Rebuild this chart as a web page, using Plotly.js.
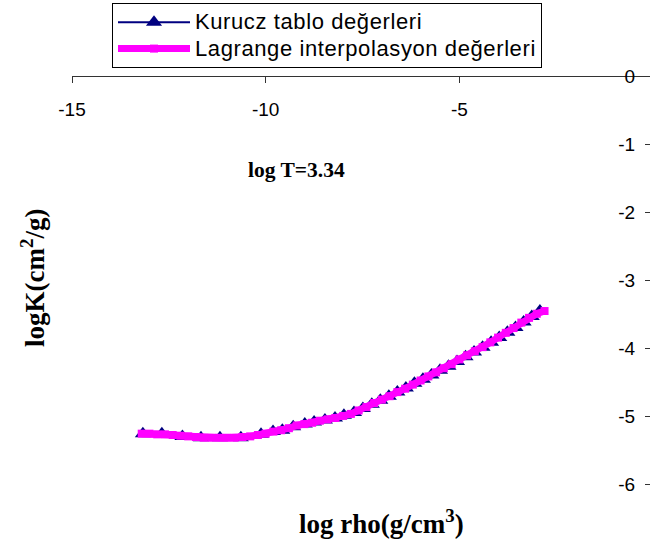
<!DOCTYPE html>
<html>
<head>
<meta charset="utf-8">
<script src="https://cdn.plot.ly/plotly-3.0.1.min.js"></script>
<style>
html, body { margin: 0; padding: 0; overflow: hidden; background: #fff; }
#chart { width: 656px; height: 545px; }
.legendtext { font-size: 22px !important; letter-spacing: 0.6px; }
</style>
</head>
<body>
<div id="chart"></div>
<script>
// ---- data ----
const kuruczName = 'Kurucz tablo değerleri';
const lagrangeName = 'Lagrange interpolasyon değerleri';

const kuruczLogRho = [-13.17, -12.68, -12.15, -11.67, -11.18, -10.64, -10.12, -9.81, -9.57, -9.29,
  -8.99, -8.75, -8.47, -8.21, -7.98, -7.72, -7.49, -7.26, -7.04, -6.82, -6.60, -6.38, -6.16,
  -5.94, -5.72, -5.50, -5.28, -5.06, -4.84, -4.62, -4.40, -4.18, -3.97, -3.76, -3.55, -3.34,
  -3.13, -2.92];
const kuruczLogK = [-5.25, -5.25, -5.29, -5.31, -5.31, -5.31, -5.26, -5.22, -5.20, -5.15,
  -5.11, -5.08, -5.05, -5.02, -4.98, -4.94, -4.88, -4.82, -4.76, -4.70, -4.64, -4.58, -4.51,
  -4.45, -4.39, -4.32, -4.26, -4.19, -4.12, -4.05, -3.98, -3.91, -3.84, -3.76, -3.69, -3.61,
  -3.53, -3.45];

const lagrangeLogRho = [-13.2, -13.0, -12.8, -12.6, -12.4, -12.2, -12.0, -11.8, -11.6, -11.4,
  -11.2, -11.0, -10.8, -10.6, -10.4, -10.2, -10.0, -9.8, -9.6, -9.4, -9.2, -9.0, -8.8, -8.6,
  -8.4, -8.2, -8.0, -7.8, -7.6, -7.4, -7.2, -7.0, -6.8, -6.6, -6.4, -6.2, -6.0, -5.8, -5.6,
  -5.4, -5.2, -5.0, -4.8, -4.6, -4.4, -4.2, -4.0, -3.8, -3.6, -3.4, -3.2, -3.0, -2.8];
const lagrangeLogK = [-5.25, -5.25, -5.26, -5.26, -5.27, -5.28, -5.29, -5.30, -5.31, -5.31,
  -5.31, -5.31, -5.31, -5.30, -5.29, -5.27, -5.25, -5.22, -5.20, -5.17, -5.13, -5.11, -5.09, -5.06,
  -5.04, -5.02, -4.99, -4.96, -4.91, -4.86, -4.80, -4.75, -4.70, -4.64, -4.59, -4.53, -4.47, -4.41, -4.35,
  -4.29, -4.23, -4.16, -4.10, -4.04, -3.98, -3.91, -3.84, -3.77, -3.70, -3.62, -3.55, -3.49, -3.45];

const xTickVals = [-15, -10, -5, 0];
const xTickText = ['-15', '-10', '-5', '0'];
const yTickVals = [0, -1, -2, -3, -4, -5, -6];
const yTickText = ['0', '-1', '-2', '-3', '-4', '-5', '-6'];

const chartNote = 'log T=3.34';
const xTitle = 'log rho(g/cm<sup>3</sup>)';
const yTitle = 'logK(cm<sup>2</sup>/g)';

// ---- layout geometry ----
const W = 656, H = 545;
const M = { l: 72, r: 3, t: 76, b: 33, autoexpand: false };
const plotW = W - M.l - M.r, plotH = H - M.t - M.b;
const px = x => (x - M.l) / plotW;
const py = y => 1 - (y - M.t) / plotH;

const sans = 'Liberation Sans, Arial, sans-serif';
const serif = 'Liberation Serif, Times New Roman, serif';

const traces = [
  {
    type: 'scatter', mode: 'lines+markers', name: kuruczName,
    x: kuruczLogRho, y: kuruczLogK,
    line: { color: '#000080', width: 2 },
    marker: { symbol: 'triangle-up', size: 14, color: '#000080' }
  },
  {
    type: 'scatter', mode: 'lines+markers', name: lagrangeName,
    x: lagrangeLogRho, y: lagrangeLogK,
    line: { color: '#FF00FF', width: 7 },
    marker: { symbol: 'square', size: 8, color: '#FF00FF' }
  }
];

const layout = {
  width: W, height: H,
  margin: M,
  paper_bgcolor: '#fff', plot_bgcolor: '#fff',
  showlegend: true,
  legend: {
    xref: 'container', yref: 'container',
    x: 112 / W, y: 1 - 3 / H, xanchor: 'left', yanchor: 'top',
    bgcolor: '#fff', bordercolor: '#000', borderwidth: 1,
    font: { family: sans, size: 18, color: '#000' },
    itemwidth: 72, tracegroupgap: 0
  },
  xaxis: {
    range: [-15, 0], anchor: 'free', position: 1, side: 'bottom',
    tickvals: xTickVals, ticktext: xTickText,
    ticks: 'outside', ticklen: 6, tickcolor: '#333', tickwidth: 1,
    showline: true, linecolor: '#333', linewidth: 1,
    showgrid: false, zeroline: false,
    tickfont: { family: sans, size: 19, color: '#000' },
    ticklabelstandoff: 10
  },
  yaxis: {
    range: [-6.4, 0], anchor: 'free', position: 1, side: 'left',
    tickvals: yTickVals, ticktext: yTickText,
    ticks: 'outside', ticklen: 8, tickcolor: '#333', tickwidth: 1,
    showline: true, linecolor: '#333', linewidth: 1,
    showgrid: false, zeroline: false,
    tickfont: { family: sans, size: 19, color: '#000' },
    ticklabelstandoff: 6
  },
  annotations: [
    { text: chartNote, xref: 'paper', yref: 'paper', x: px(296), y: py(170),
      xanchor: 'center', yanchor: 'middle',
      showarrow: false, font: { family: serif, size: 21.5, color: '#000', weight: 'bold' } },
    { text: '<b>' + xTitle + '</b>', xref: 'paper', yref: 'paper', x: px(381), y: py(522),
      xanchor: 'center', yanchor: 'middle',
      showarrow: false, font: { family: serif, size: 27, color: '#000' } },
    { text: '<b>' + yTitle + '</b>', xref: 'paper', yref: 'paper', x: px(33), y: py(278),
      xanchor: 'center', yanchor: 'middle',
      showarrow: false, textangle: -90, font: { family: serif, size: 27, color: '#000' } }
  ]
};

Plotly.newPlot('chart', traces, layout, { displayModeBar: false, staticPlot: true });
</script>
</body>
</html>
